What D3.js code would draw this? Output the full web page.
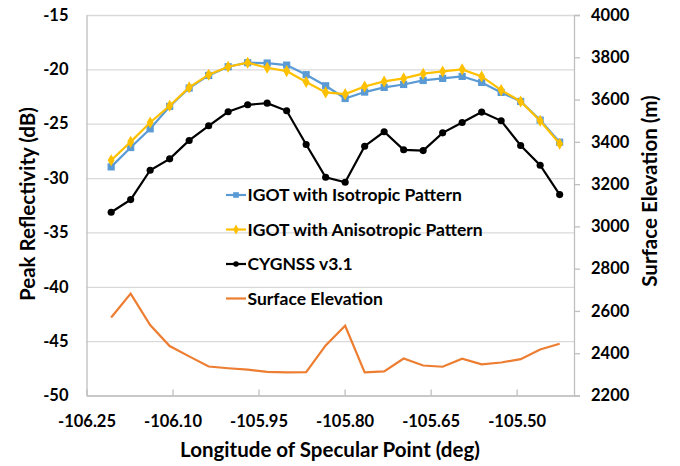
<!DOCTYPE html>
<html>
<head>
<meta charset="utf-8">
<script src="https://cdn.jsdelivr.net/npm/d3@7"></script>
<style>
    body { margin: 0; background: #fff; }
    text { font-family: Lato, "Open Sans", sans-serif; font-weight: bold; fill: #000; }
</style>
</head>
<body>
<div id="chart-container"></div>
<script>
// longitude of each specular point (deg)
const longitudes = [-106.207, -106.173, -106.139, -106.105, -106.071, -106.037, -106.003, -105.969,
    -105.935, -105.901, -105.867, -105.833, -105.799, -105.765, -105.731, -105.697,
    -105.663, -105.629, -105.595, -105.561, -105.527, -105.493, -105.459, -105.425]

// peak reflectivity (dB)
const igotIsotropic = [-28.97, -27.19, -25.47, -23.41, -21.72, -20.56, -19.76, -19.39,
    -19.42, -19.61, -20.49, -21.51, -22.68, -22.09, -21.66, -21.39,
    -21.02, -20.83, -20.65, -21.20, -22.12, -22.95, -24.67, -26.70]
const igotAnisotropic = [-28.36, -26.67, -24.89, -23.35, -21.66, -20.49, -19.76, -19.39,
    -19.85, -20.16, -21.17, -22.12, -22.28, -21.57, -21.11, -20.83,
    -20.40, -20.19, -20.00, -20.65, -21.91, -22.95, -24.73, -26.85]
const cygnss = [-33.14, -31.98, -29.28, -28.23, -26.54, -25.19, -23.90, -23.26,
    -23.11, -23.81, -26.91, -29.92, -30.38, -27.07, -25.74, -27.40,
    -27.47, -25.84, -24.89, -23.93, -24.73, -27.00, -28.82, -31.52]

// surface elevation (m), right axis
const elevation = [2569, 2682, 2533, 2434, 2385, 2337, 2329, 2322,
    2312, 2309, 2310, 2437, 2530, 2309, 2314, 2375,
    2342, 2336, 2374, 2347, 2356, 2372, 2418, 2445]

const xTicks = [-106.25, -106.10, -105.95, -105.80, -105.65, -105.50]
const yLeftTicks = [-50, -45, -40, -35, -30, -25, -20, -15]
const yRightTicks = [2200, 2400, 2600, 2800, 3000, 3200, 3400, 3600, 3800, 4000]

const seriesNames = ["IGOT with Isotropic Pattern", "IGOT with Anisotropic Pattern", "CYGNSS v3.1", "Surface Elevation"]

const width = 680, height = 466
const plot = { left: 86.5, right: 574, top: 15, bottom: 395.5 }

const svg = d3.select("#chart-container")
    .append("svg")
    .attr("width", width)
    .attr("height", height)

const xScale = d3.scaleLinear()
    .domain([-106.25, -105.40])
    .range([plot.left, plot.right])

const yLeft = d3.scaleLinear()
    .domain([-50, -15])
    .range([plot.bottom, plot.top])

const yRight = d3.scaleLinear()
    .domain([2200, 4000])
    .range([plot.bottom, plot.top])

// gridlines
svg.append("g")
    .attr("class", "grid")
    .attr("transform", `translate(${plot.left},0)`)
    .call(d3.axisLeft(yLeft).tickValues(yLeftTicks).tickSize(-(plot.right - plot.left)).tickFormat(""))
    .call(g => g.select(".domain").remove())
    .call(g => g.selectAll("line").attr("stroke", "#d9d9d9").attr("stroke-width", 1.3))

// left axis
svg.append("g")
    .attr("class", "axis y-axis")
    .attr("transform", `translate(${plot.left},0)`)
    .call(d3.axisLeft(yLeft).tickValues(yLeftTicks).tickSize(0).tickPadding(18).tickFormat(d => d))
    .call(g => g.select(".domain").attr("stroke", "#bfbfbf").attr("stroke-width", 1.3))
    .call(g => g.selectAll("text").attr("font-size", 16.5))

// right axis
svg.append("g")
    .attr("class", "axis y-axis-right")
    .attr("transform", `translate(${plot.right},0)`)
    .call(d3.axisRight(yRight).tickValues(yRightTicks).tickSize(6).tickPadding(11).tickFormat(d => d))
    .call(g => g.selectAll(".domain, line").attr("stroke", "#bfbfbf").attr("stroke-width", 1.3))
    .call(g => g.selectAll("text").attr("font-size", 16.5))

// bottom axis, ticks point inwards
svg.append("g")
    .attr("class", "axis x-axis")
    .attr("transform", `translate(0,${plot.bottom})`)
    .call(d3.axisBottom(xScale).tickValues(xTicks).tickSizeInner(-6).tickSizeOuter(0).tickPadding(20).tickFormat(d => d.toFixed(2)))
    .call(g => g.selectAll(".domain, line").attr("stroke", "#bfbfbf").attr("stroke-width", 1.3))
    .call(g => g.selectAll("text").attr("font-size", 16.5))

// axis titles
svg.append("text")
    .attr("x", 330)
    .attr("y", 457)
    .attr("text-anchor", "middle")
    .attr("font-size", 20.5)
    .text("Longitude of Specular Point (deg)")

svg.append("text")
    .attr("transform", "translate(35,204) rotate(-90)")
    .attr("text-anchor", "middle")
    .attr("font-size", 20.5)
    .text("Peak Reflectivity (dB)")

svg.append("text")
    .attr("transform", "translate(657,191) rotate(-90)")
    .attr("text-anchor", "middle")
    .attr("font-size", 20.5)
    .text("Surface Elevation (m)")

// lines
const lineLeft = d3.line().x((d, i) => xScale(longitudes[i])).y(d => yLeft(d))
const lineRight = d3.line().x((d, i) => xScale(longitudes[i])).y(d => yRight(d))

const series = [
    { values: igotIsotropic, color: "#5b9bd5", marker: "square" },
    { values: igotAnisotropic, color: "#ffc000", marker: "diamond" },
    { values: cygnss, color: "#000000", marker: "circle" }
]

const symbolType = { square: d3.symbolSquare, diamond: d3.symbolDiamond, circle: d3.symbolCircle }
const chartSymbolSize = { square: 52, diamond: 42, circle: 40 }

svg.append("path")
    .datum(elevation)
    .attr("fill", "none")
    .attr("stroke", "#ed7d31")
    .attr("stroke-width", 2.2)
    .attr("d", lineRight)

series.forEach(s => {
    const g = svg.append("g")
    g.append("path")
        .datum(s.values)
        .attr("fill", "none")
        .attr("stroke", s.color)
        .attr("stroke-width", 2.2)
        .attr("d", lineLeft)
    g.selectAll("path.marker")
        .data(s.values)
        .join("path")
        .attr("class", "marker")
        .attr("transform", (d, i) => `translate(${xScale(longitudes[i])},${yLeft(d)})`)
        .attr("d", d3.symbol().type(symbolType[s.marker]).size(chartSymbolSize[s.marker])())
        .attr("fill", s.color)
})

// legend
const legendColors = ["#5b9bd5", "#ffc000", "#000000", "#ed7d31"]
const legendMarkers = ["square", "diamond", "circle", null]
const legendSymbolSize = { square: 32, diamond: 28, circle: 24 }

const legend = svg.append("g")
    .selectAll("g")
    .data(seriesNames)
    .join("g")
    .attr("transform", (d, i) => `translate(226,${195 + i * 34.5})`)

legend.append("line")
    .attr("x1", 0).attr("x2", 20)
    .attr("stroke", (d, i) => legendColors[i])
    .attr("stroke-width", 2.2)

legend.filter((d, i) => legendMarkers[i])
    .append("path")
    .attr("transform", "translate(10,0)")
    .attr("d", d => {
        const m = legendMarkers[seriesNames.indexOf(d)]
        return d3.symbol().type(symbolType[m]).size(legendSymbolSize[m])()
    })
    .attr("fill", d => legendColors[seriesNames.indexOf(d)])

legend.append("text")
    .attr("x", 21.5)
    .attr("dy", "0.36em")
    .attr("font-size", 17.5)
    .text(d => d)
</script>
</body>
</html>
